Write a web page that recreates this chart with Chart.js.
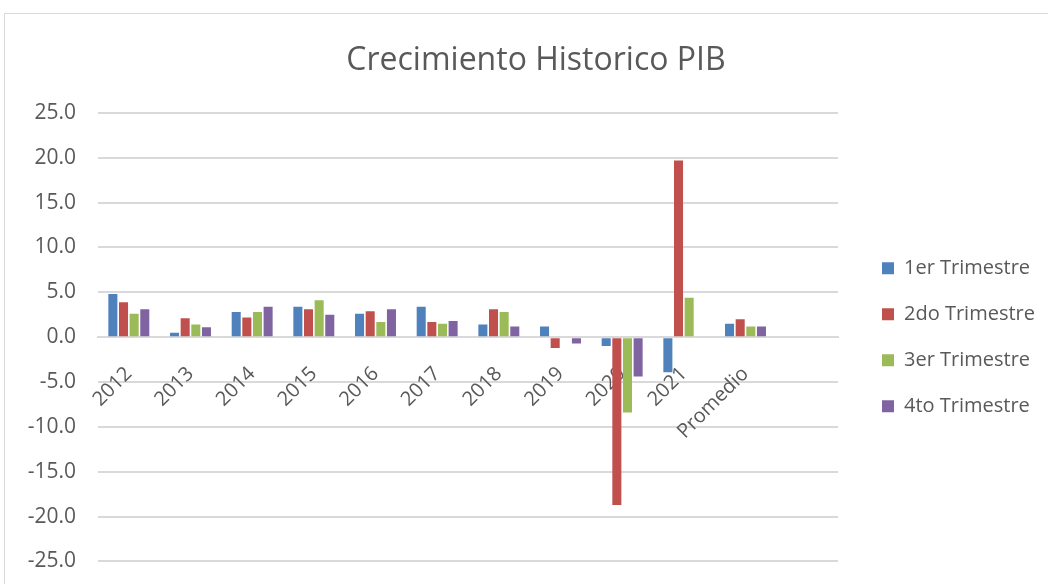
<!DOCTYPE html>
<html>
<head>
<meta charset="utf-8">
<script src="https://cdn.jsdelivr.net/npm/chart.js@4.4.0/dist/chart.umd.min.js"></script>
<style>
  html, body { margin: 0; padding: 0; width: 1048px; height: 584px; overflow: hidden; background: #fff; }
  .frame { position: absolute; left: 4px; top: 13px; width: 1100px; height: 700px; border: 1px solid #d9d9d9; box-sizing: border-box; }
  .wrap { position: absolute; left: 0; top: 0; width: 1072px; height: 596px; }
</style>
</head>
<body>
<div class="frame"></div>
<div class="wrap"><canvas id="c" width="1072" height="596"></canvas></div>
<script>
const categories = ['2012', '2013', '2014', '2015', '2016', '2017', '2018', '2019', '2020', '2021', 'Promedio', ''];
const seriesNames = ['1er Trimestre', '2do Trimestre', '3er Trimestre', '4to Trimestre'];
const q1 = [4.8, 0.5, 2.8, 3.4, 2.6, 3.4, 1.4, 1.2, -1.0, -3.9, 1.5];
const q2 = [3.9, 2.1, 2.2, 3.1, 2.9, 1.7, 3.1, -1.2, -18.7, 19.7, 2.0];
const q3 = [2.6, 1.4, 2.8, 4.1, 1.7, 1.5, 2.8, 0.0, -8.4, 4.4, 1.2];
const q4 = [3.1, 1.1, 3.4, 2.5, 3.1, 1.8, 1.2, -0.7, -4.4, 0.0, 1.2];
const yMin = -25, yMax = 25, yStep = 5;
const colors = ['#4F81BD', '#C0504D', '#9BBB59', '#8064A2'];

const FONT = '"Open Sans", sans-serif';
const TXT = '#595959';

const legendWidthPlugin = {
  id: 'legendWidth',
  afterInit(chart) {
    const lg = chart.legend;
    if (!lg) return;
    const orig = lg.fit;
    lg.fit = function () { orig.call(this); this.width = 212; };
  }
};

const series = [q1, q2, q3, q4];
new Chart(document.getElementById('c'), {
  type: 'bar',
  data: {
    labels: categories,
    datasets: series.map((d, i) => ({
      label: seriesNames[i],
      data: d,
      backgroundColor: colors[i],
      borderWidth: 0,
      categoryPercentage: 0.69,
      barPercentage: 0.85
    }))
  },
  options: {
    responsive: false,
    animation: false,
    layout: { padding: { left: 4, top: 13, right: 4, bottom: 0 } },
    plugins: {
      title: {
        display: true,
        text: 'Crecimiento Historico PIB',
        color: TXT,
        font: { family: FONT, size: 32, weight: 'normal' },
        padding: { top: 29, bottom: 32.5 }
      },
      legend: {
        position: 'right',
        fullSize: false,
        labels: {
          color: TXT,
          font: { family: FONT, size: 20 },
          boxWidth: 12,
          boxHeight: 12,
          padding: 26
        }
      },
      tooltip: { enabled: false }
    },
    scales: {
      x: {
        type: 'category',
        position: { y: 0 },
        grid: { display: false },
        border: { display: true, color: '#d9d9d9', width: 2 },
        ticks: {
          color: TXT,
          font: { family: FONT, size: 20 },
          minRotation: 45,
          maxRotation: 45,
          autoSkip: false,
          padding: 17
        },
        afterFit(s) { s.height = 0; }
      },
      y: {
        min: yMin,
        max: yMax,
        grid: { color: '#d9d9d9', lineWidth: 2, drawTicks: false },
        border: { display: false },
        ticks: {
          stepSize: yStep,
          color: TXT,
          font: { family: FONT, size: 21 },
          padding: 22,
          callback: v => Number(v).toFixed(1)
        },
        afterFit(s) { s.width = 94; }
      },
      y2: {
        type: 'linear',
        position: 'right',
        display: true,
        grid: { display: false },
        border: { display: false },
        ticks: { display: false },
        afterFit(s) { s.width = 18; }
      }
    }
  },
  plugins: [legendWidthPlugin]
});
</script>
</body>
</html>
